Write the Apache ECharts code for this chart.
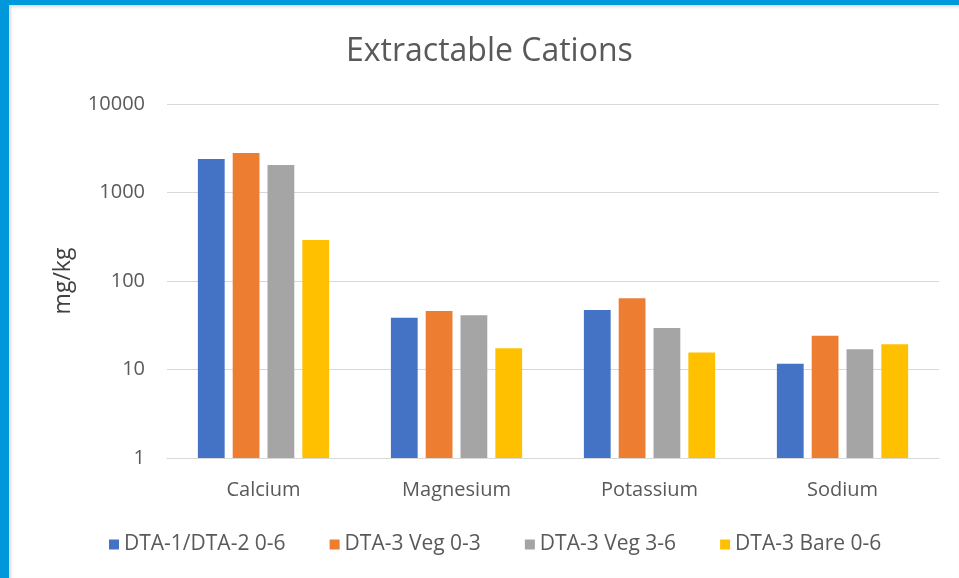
<!DOCTYPE html>
<html>
<head>
<meta charset="utf-8">
<script src="https://cdn.jsdelivr.net/npm/echarts@6/dist/echarts.min.js"></script>
<style>
    html, body { margin: 0; padding: 0; background: #fff; }
    .frameLeft { position: absolute; left: 0; top: 0; width: 9px; height: 578px; background: #0098da; }
    .frameTop { position: absolute; left: 0; top: 0; width: 959px; height: 5px; background: #0098da; }
    .frameShade { position: absolute; left: 9px; top: 5px; width: 950px; height: 573px; box-shadow: inset 2px 2px 3px rgba(0, 0, 0, 0.15); }
    #main { position: absolute; left: 0; top: 0; width: 959px; height: 578px; }
</style>
</head>
<body>
<div class="frameLeft"></div>
<div class="frameTop"></div>
<div class="frameShade"></div>
<div id="main"></div>
<script>
// data
const categories = ['Calcium', 'Magnesium', 'Potassium', 'Sodium'];
const seriesNames = ['DTA-1/DTA-2 0-6', 'DTA-3 Veg 0-3', 'DTA-3 Veg 3-6', 'DTA-3 Bare 0-6'];
const dta12 = [2390, 38.5, 47, 11.6];
const veg03 = [2800, 45.8, 63.7, 24.1];
const veg36 = [2050, 41, 29.4, 16.9];
const bare06 = [290, 17.4, 15.6, 19.3];
const colors = ['#4472c4', '#ed7d31', '#a5a5a5', '#ffc000'];

const font = "'Open Sans', 'Noto Sans', sans-serif";
const textColor = '#595959';

const chart = echarts.init(document.getElementById('main'));
const allValues = [dta12, veg03, veg36, bare06];

chart.setOption({
    backgroundColor: 'transparent',
    animation: false,
    title: {
        text: 'Extractable Cations',
        left: 341,
        top: 31,
        textStyle: { fontFamily: font, fontSize: 32, fontWeight: 'normal', color: textColor }
    },
    legend: {
        top: 529,
        left: 104,
        itemWidth: 10,
        itemHeight: 10,
        itemGap: 44,
        icon: 'rect',
        textStyle: { fontFamily: font, fontSize: 21, color: textColor }
    },
    grid: { left: 167, right: 20, top: 104, bottom: 120 },
    xAxis: {
        type: 'category',
        data: categories,
        axisLine: { lineStyle: { color: '#d9d9d9', width: 1 } },
        axisTick: { show: false },
        axisLabel: { fontFamily: font, fontSize: 20, color: textColor, margin: 22 }
    },
    yAxis: {
        type: 'log',
        logBase: 10,
        min: 1,
        max: 10000,
        name: 'mg/kg',
        nameLocation: 'middle',
        nameGap: 92,
        nameRotate: 90,
        nameTextStyle: { fontFamily: font, fontSize: 23, color: '#404040' },
        axisLine: { show: false },
        axisTick: { show: false },
        splitLine: { lineStyle: { color: '#d9d9d9', width: 1 } },
        axisLabel: {
            fontFamily: font, fontSize: 20, color: textColor, margin: 22,
            formatter: (v) => String(Math.round(v))
        }
    },
    series: seriesNames.map((name, i) => ({
        name: name,
        type: 'bar',
        data: allValues[i],
        barGap: '30%',
        barCategoryGap: '32%',
        itemStyle: { color: colors[i] }
    }))
});
</script>
</body>
</html>
